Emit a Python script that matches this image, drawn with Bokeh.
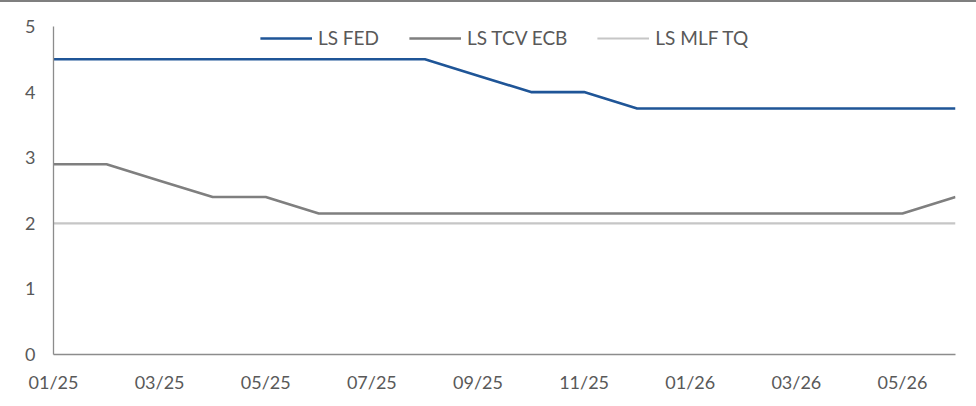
from bokeh.plotting import figure
from bokeh.models import FixedTicker, Range1d, Legend, LegendItem
from bokeh.embed import file_html
from bokeh.resources import INLINE

months = ["01/25", "02/25", "03/25", "04/25", "05/25", "06/25", "07/25", "08/25", "09/25",
          "10/25", "11/25", "12/25", "01/26", "02/26", "03/26", "04/26", "05/26", "06/26"]
ls_fed = [4.5, 4.5, 4.5, 4.5, 4.5, 4.5, 4.5, 4.5, 4.25, 4.0, 4.0, 3.75, 3.75, 3.75, 3.75, 3.75, 3.75, 3.75]
ls_tcv_ecb = [2.9, 2.9, 2.65, 2.4, 2.4, 2.15, 2.15, 2.15, 2.15, 2.15, 2.15, 2.15, 2.15, 2.15, 2.15, 2.15, 2.15, 2.4]
ls_mlf_tq = [2.0] * 18
y_ticks = [0, 1, 2, 3, 4, 5]

x = list(range(len(months)))
FONT = "Lato"
TXT = "#595959"
AX = "#8c8c8c"

p = figure(width=976, height=397, output_backend="svg", toolbar_location=None,
           x_range=Range1d(0, len(months) - 1), y_range=Range1d(0, 5),
           min_border_left=53, min_border_right=21, min_border_top=24, min_border_bottom=45)
p.outline_line_color = None
p.grid.grid_line_color = None
p.background_fill_color = "white"
p.border_fill_color = "white"
p.styles = {"border-top": "2px solid #7f7f7f"}

r1 = p.line(x, ls_fed, line_color="#1f5597", line_width=2.6)
r2 = p.line(x, ls_tcv_ecb, line_color="#7f7f7f", line_width=2.6)
r3 = p.line(x, ls_mlf_tq, line_color="#c6c6c6", line_width=2.2)

p.xaxis.ticker = FixedTicker(ticks=x[::2])
p.xaxis.major_label_overrides = {i: months[i] for i in x[::2]}
p.yaxis.ticker = FixedTicker(ticks=y_ticks)

for ax in (p.xaxis, p.yaxis):
    ax.axis_line_color = AX
    ax.axis_line_width = 1.3
    ax.major_tick_line_color = None
    ax.minor_tick_line_color = None
    ax.major_label_text_font = FONT
    ax.major_label_text_font_size = "18px"
    ax.major_label_text_color = TXT
p.xaxis.major_label_standoff = 10
p.yaxis.major_label_standoff = 12

legend = Legend(items=[LegendItem(label="LS FED", renderers=[r1]),
                       LegendItem(label="LS TCV ECB", renderers=[r2]),
                       LegendItem(label="LS MLF TQ", renderers=[r3])],
                orientation="horizontal", location="top_center")
legend.border_line_color = None
legend.background_fill_alpha = 0
legend.padding = 0
legend.margin = 0
legend.spacing = 30
legend.glyph_width = 52
legend.glyph_height = 18
legend.label_height = 18
legend.label_standoff = 6
legend.label_text_font = FONT
legend.label_text_font_size = "19px"
legend.label_text_color = TXT
p.add_layout(legend)

open("out.html", "w").write(file_html(p, INLINE))
